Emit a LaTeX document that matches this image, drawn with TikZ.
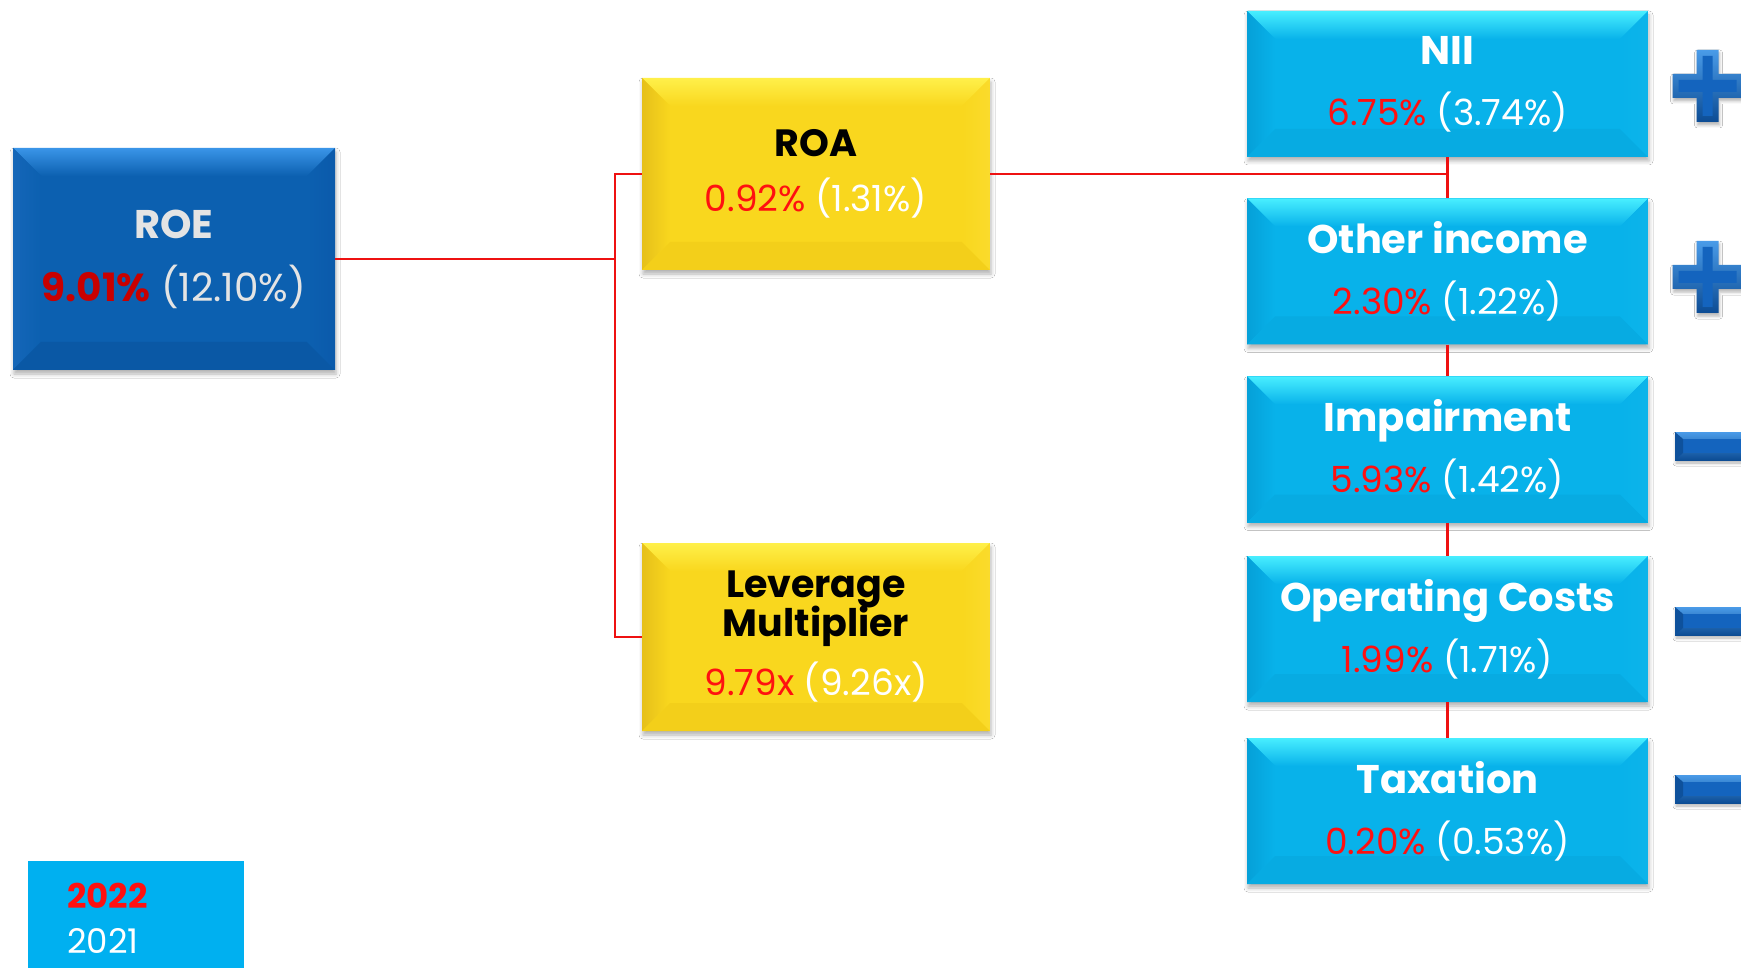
\documentclass[tikz,border=0pt]{standalone}
\usepackage{fontspec}
\setmainfont{Poppins}
\usetikzlibrary{calc,shadows.blur}

\definecolor{linered}{HTML}{EE1111}
\definecolor{valred}{HTML}{FF1010}
\definecolor{roered}{HTML}{C80000}
\definecolor{roegray}{HTML}{E4E4E4}
\definecolor{legendcyan}{HTML}{00B0F0}
\definecolor{signface}{HTML}{1464BE}
\definecolor{signlight}{HTML}{4A9BE8}
\definecolor{signdark}{HTML}{0C4C94}

\definecolor{roeface}{HTML}{0C60B0}
\definecolor{roetop}{HTML}{3A95E8}
\definecolor{roeleft}{HTML}{1466B8}
\definecolor{roebottom}{HTML}{0A58A5}
\definecolor{roeright}{HTML}{0B5AAB}
\definecolor{yelface}{HTML}{F9D71E}
\definecolor{yeltop}{HTML}{FFF04A}
\definecolor{yelleft}{HTML}{E6C01A}
\definecolor{yelbottom}{HTML}{F3CF1A}
\definecolor{yelright}{HTML}{FADB2C}
\definecolor{cyface}{HTML}{08B2EA}
\definecolor{cytop}{HTML}{48EEFF}
\definecolor{cyleft}{HTML}{05A0D8}
\definecolor{cybottom}{HTML}{07ABE2}
\definecolor{cyright}{HTML}{0CB4EA}

\newcommand\ttlfont{\fontsize{40}{61}\selectfont\bfseries}
\newcommand\smallttlfont{\fontsize{38}{61}\selectfont\bfseries}
\newcommand\valfont{\fontsize{36}{61}\selectfont}
\newcommand\vals[2]{{\valfont{\color{valred}#1} {\color{white}(#2)}}}

\tikzset{
  % rectangle with a bevelled rim: face, top, left, bottom, right colours
  bevelbox/.style n args={5}{
    rectangle, inner sep=0pt, align=center, fill=#1,
    font=\fontsize{36}{61}\selectfont,
    blur shadow={shadow xshift=1pt, shadow yshift=-4pt,
                 shadow blur radius=4pt, shadow opacity=30},
    path picture={
      \path (path picture bounding box.north west) coordinate (bNW)
            (path picture bounding box.south east) coordinate (bSE)
            (bSE |- bNW) coordinate (bNE)
            (bNW |- bSE) coordinate (bSW);
      \shade[top color=#2, bottom color=#1]
        (bNW) -- (bNE) -- ($(bNE)+(-28,28)$) -- ($(bNW)+(28,28)$) -- cycle;
      \shade[left color=#3, right color=#1]
        (bNW) -- ($(bNW)+(28,28)$) -- ($(bSW)+(28,-28)$) -- (bSW) -- cycle;
      \fill[#4]
        (bSW) -- ($(bSW)+(28,-28)$) -- ($(bSE)+(-28,-28)$) -- (bSE) -- cycle;
      \shade[left color=#1, right color=#5]
        (bNE) -- (bSE) -- ($(bSE)+(-28,-28)$) -- ($(bNE)+(-28,28)$) -- cycle;
    }
  },
  roebox/.style={bevelbox={roeface}{roetop}{roeleft}{roebottom}{roeright},
                 minimum width=322, minimum height=222},
  yellowbox/.style={bevelbox={yelface}{yeltop}{yelleft}{yelbottom}{yelright},
                 minimum width=348},
  cyanbox/.style={bevelbox={cyface}{cytop}{cyleft}{cybottom}{cyright},
                 minimum width=401, minimum height=146},
  link/.style={draw=linered, line width=2.8pt},
  legendtext/.style={anchor=west, inner sep=0pt, font=\fontsize{34}{40}\selectfont},
}

% bevelled plus and minus signs, placed by the given point
\newcommand\plusmark[2]{%
  \begin{scope}[shift={(#1,#2)}]
    \shade[top color=signlight, bottom color=signdark,
           blur shadow={shadow xshift=1pt, shadow yshift=-3pt, shadow blur radius=3pt, shadow opacity=30}]
      (-11,-36) -- (11,-36) -- (11,-12) -- (35,-12) -- (35,12) -- (11,12) -- (11,36)
      -- (-11,36) -- (-11,12) -- (-35,12) -- (-35,-12) -- (-11,-12) -- cycle;
    \fill[signface]
      (-5,-30) -- (5,-30) -- (5,-6) -- (29,-6) -- (29,6) -- (5,6) -- (5,30)
      -- (-5,30) -- (-5,6) -- (-29,6) -- (-29,-6) -- (-5,-6) -- cycle;
  \end{scope}}
\newcommand\minusmark[2]{%
  \begin{scope}[shift={(#1,#2)}]
    \shade[top color=signlight, bottom color=signdark,
           blur shadow={shadow xshift=1pt, shadow yshift=-3pt, shadow blur radius=3pt, shadow opacity=30}]
      (0,-14) rectangle (90,14);
    \fill[signface] (8,-7) -- (90,-7) -- (90,7) -- (8,7) -- cycle;
    \fill[signdark!80!signface] (0,-14) -- (8,-7) -- (8,7) -- (0,14) -- cycle;
  \end{scope}}

\begin{document}
\begin{tikzpicture}[x=1pt, y=-1pt]
  \useasboundingbox (0,0) rectangle (1741,968);
  \clip (0,0) rectangle (1741,968);
  \fill[white] (0,0) rectangle (1741,968);

  % top level
  \node[roebox] (roe) at (174,259)
    {{\ttlfont\color{roegray}ROE}\\[2pt]
     {\fontsize{39}{61}\selectfont{\bfseries\color{roered}9.01\%} {\color{roegray}(12.10\%)}}};

  % second level
  \node[yellowbox, minimum height=192] (roa) at (816,174)
    {{\smallttlfont\color{black}ROA}\\[-6pt]\vals{0.92\%}{1.31\%}};
  \node[yellowbox, minimum height=188] (lev) at (816,637)
    {{\smallttlfont\color{black}Leverage}\\[-22pt]
     {\smallttlfont\color{black}Multiplier}\\[-2pt]\vals{9.79x}{9.26x}};

  % components of ROA
  \node[cyanbox] (nii) at (1447.5,84)
    {{\ttlfont\color{white}NII}\\\vals{6.75\%}{3.74\%}};
  \node[cyanbox] (oth) at (1447.5,271.5)
    {{\ttlfont\color{white}Other income}\\\vals{2.30\%}{1.22\%}};
  \node[cyanbox] (imp) at (1447.5,449.5)
    {{\ttlfont\color{white}Impairment}\\\vals{5.93\%}{1.42\%}};
  \node[cyanbox] (opc) at (1447.5,629)
    {{\ttlfont\color{white}Operating Costs}\\\vals{1.99\%}{1.71\%}};
  \node[cyanbox] (tax) at (1447.5,811)
    {{\ttlfont\color{white}Taxation}\\\vals{0.20\%}{0.53\%}};

  % connectors
  \coordinate (split) at (615,259);
  \draw[link] (roe.east) -- (split);
  \draw[link] (roa.west) -| (split) |- (lev.west);
  \draw[link] (roa.east) -| (nii.south);
  \draw[link] (nii.south) -- (oth.north);
  \draw[link] (oth.south) -- (imp.north);
  \draw[link] (imp.south) -- (opc.north);
  \draw[link] (opc.south) -- (tax.north);

  % signs
  \plusmark{1707.5}{86}
  \plusmark{1707.5}{277}
  \minusmark{1675}{446}
  \minusmark{1675}{621}
  \minusmark{1675}{789}

  % legend
  \node[fill=legendcyan, minimum width=216, minimum height=110, inner sep=0pt] (legend) at (136,916) {};
  \node[legendtext, text=valred, font=\fontsize{34}{40}\selectfont\bfseries] (y2022) at (67,896) {2022};
  \node[legendtext, text=white] (y2021) at (67,941) {2021};
\end{tikzpicture}
\end{document}
